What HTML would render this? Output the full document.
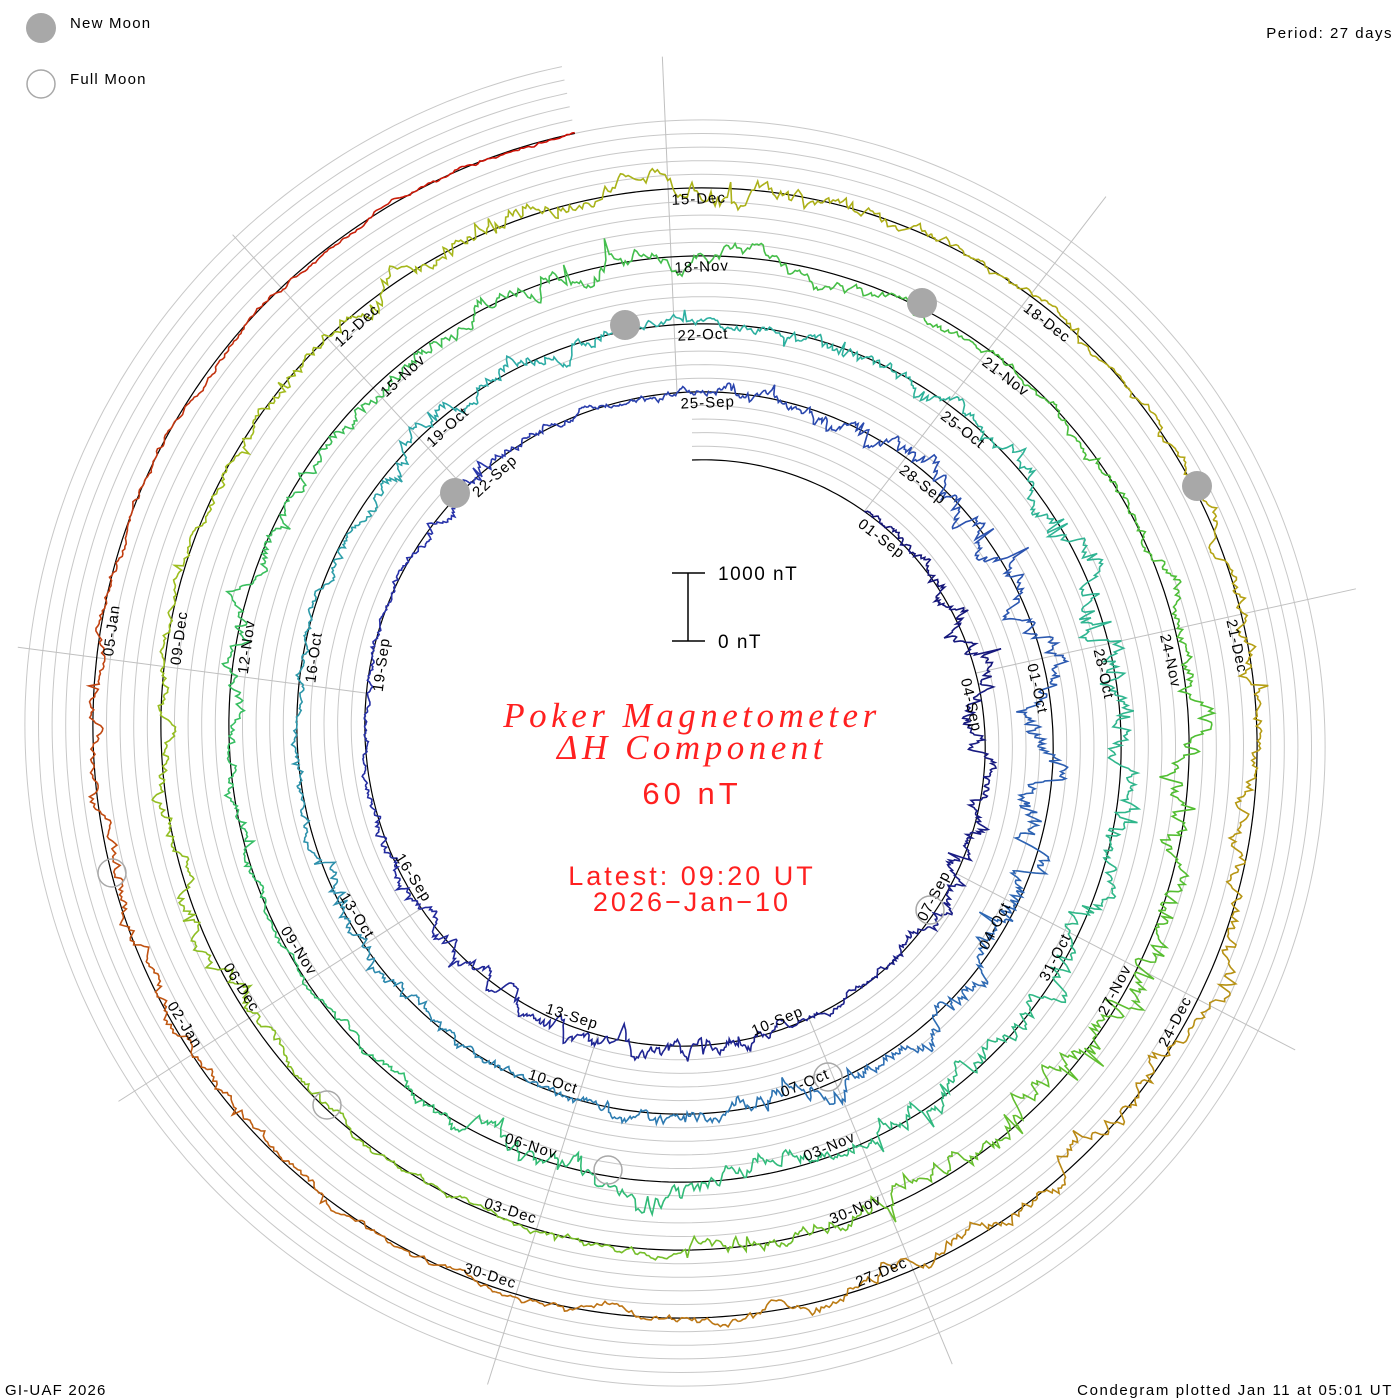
<!DOCTYPE html>
<html><head><meta charset="utf-8">
<style>
html,body{margin:0;padding:0;background:#fff;}
svg{display:block;}
text{font-family:"Liberation Sans",sans-serif;}
.lb{font-size:15px;fill:#000;letter-spacing:1px;}
</style></head>
<body>
<svg id="s" width="1400" height="1400" viewBox="0 0 1400 1400" xmlns="http://www.w3.org/2000/svg">
<rect width="1400" height="1400" fill="#fff"/>
<g id="grey"></g>
<g id="spokes"></g>
<g id="base"></g>
<g id="trace"></g>
<g id="labels">
<text class="lb">01-Sep</text><text class="lb">04-Sep</text><text class="lb">07-Sep</text><text class="lb">10-Sep</text><text class="lb">13-Sep</text><text class="lb">16-Sep</text><text class="lb">19-Sep</text><text class="lb">22-Sep</text><text class="lb">25-Sep</text>
<text class="lb">28-Sep</text><text class="lb">01-Oct</text><text class="lb">04-Oct</text><text class="lb">07-Oct</text><text class="lb">10-Oct</text><text class="lb">13-Oct</text><text class="lb">16-Oct</text><text class="lb">19-Oct</text><text class="lb">22-Oct</text>
<text class="lb">25-Oct</text><text class="lb">28-Oct</text><text class="lb">31-Oct</text><text class="lb">03-Nov</text><text class="lb">06-Nov</text><text class="lb">09-Nov</text><text class="lb">12-Nov</text><text class="lb">15-Nov</text><text class="lb">18-Nov</text>
<text class="lb">21-Nov</text><text class="lb">24-Nov</text><text class="lb">27-Nov</text><text class="lb">30-Nov</text><text class="lb">03-Dec</text><text class="lb">06-Dec</text><text class="lb">09-Dec</text><text class="lb">12-Dec</text><text class="lb">15-Dec</text>
<text class="lb">18-Dec</text><text class="lb">21-Dec</text><text class="lb">24-Dec</text><text class="lb">27-Dec</text><text class="lb">30-Dec</text><text class="lb">02-Jan</text><text class="lb">05-Jan</text>
</g>
<g fill="#a8a8a8">
<circle cx="455" cy="493" r="15"/><circle cx="625" cy="325" r="15"/><circle cx="922" cy="303" r="15"/><circle cx="1197" cy="486" r="15"/>
</g>
<g fill="none" stroke="#a8a8a8" stroke-width="1.5">
<circle cx="112" cy="873" r="14"/><circle cx="930" cy="910" r="14"/><circle cx="828" cy="1077" r="14"/><circle cx="608" cy="1170" r="14"/><circle cx="327" cy="1105" r="14"/>
</g>
<circle cx="41" cy="28" r="15" fill="#a8a8a8"/>
<text x="70" y="28" font-size="15" letter-spacing="1.2">New Moon</text>
<circle cx="41" cy="84" r="14" fill="none" stroke="#a8a8a8" stroke-width="1.5"/>
<text x="70" y="84" font-size="15" letter-spacing="1.2">Full Moon</text>
<text x="1393" y="38" font-size="15" text-anchor="end" letter-spacing="1.5">Period: 27 days</text>
<text x="5" y="1395" font-size="15" letter-spacing="1.2">GI-UAF 2026</text>
<text x="1393" y="1395" font-size="15" text-anchor="end" letter-spacing="1.6">Condegram plotted Jan 11 at 05:01 UT</text>
<g stroke="#000" stroke-width="1.5">
<line x1="688" y1="573" x2="688" y2="641"/><line x1="672" y1="573" x2="705" y2="573"/><line x1="672" y1="641" x2="705" y2="641"/>
</g>
<text x="718" y="580" font-size="19" letter-spacing="1.5">1000 nT</text>
<text x="718" y="648" font-size="19" letter-spacing="1.5">0 nT</text>
<g fill="#ff2020" text-anchor="middle">
<text x="692" y="727" font-size="35" font-style="italic" letter-spacing="4.5" style="font-family:'Liberation Serif',serif">Poker Magnetometer</text>
<text x="692" y="759" font-size="35" font-style="italic" letter-spacing="4.5" style="font-family:'Liberation Serif',serif">ΔH Component</text>
<text x="692" y="804" font-size="31" letter-spacing="4">60 nT</text>
<text x="692" y="885" font-size="27" letter-spacing="3">Latest: 09:20 UT</text>
<text x="692" y="911" font-size="27" letter-spacing="3">2026−Jan−10</text>
</g>
</svg>
<script>
(function(){
var NS="http://www.w3.org/2000/svg";
var cx=692,cy=736,r0=276,k=68;
function R(t){return r0+k*t/360;}
function P(t,r){var a=t*Math.PI/180;return [cx+r*Math.sin(a),cy-r*Math.cos(a)];}
function el(tag,attrs,parent){var e=document.createElementNS(NS,tag);for(var a in attrs)e.setAttribute(a,attrs[a]);parent.appendChild(e);return e;}
var TEND=1789;
var g=document.getElementById('grey');
for(var j=1;j<=5;j++){
  var d="";
  for(var t=0;t<=TEND;t+=1){var p=P(t,R(t)+j*k/5);d+=(t?"L":"M")+p[0].toFixed(1)+" "+p[1].toFixed(1);}
  el('path',{d:d,fill:'none',stroke:'#c8c8c8','stroke-width':1},g);
}
var sp=document.getElementById('spokes');
for(var i=0;i<9;i++){
  var a=37.5+40*i;var p1=P(a,R(a)),p2=P(a,680);
  el('line',{x1:p1[0],y1:p1[1],x2:p2[0],y2:p2[1],stroke:'#c0c0c0','stroke-width':1},sp);
}
var b="";
for(var t=0;t<=TEND;t+=1){var p=P(t,R(t));b+=(t?"L":"M")+p[0].toFixed(1)+" "+p[1].toFixed(1);}
el('path',{d:b,fill:'none',stroke:'#000','stroke-width':1.2},document.getElementById('base'));
var stops=[[-3,[16,16,110]],[20,[40,50,170]],[35,[45,110,180]],[50,[45,175,165]],[68,[50,190,110]],[85,[80,190,50]],[100,[160,190,30]],[110,[180,165,20]],[120,[190,110,20]],[128,[195,50,15]],[132,[210,0,0]]];
function col(d){for(var i=0;i<stops.length-1;i++){if(d<=stops[i+1][0]){var f=(d-stops[i][0])/(stops[i+1][0]-stops[i][0]);f=Math.max(0,Math.min(1,f));var c=stops[i][1],c2=stops[i+1][1];return "rgb("+Math.round(c[0]+(c2[0]-c[0])*f)+","+Math.round(c[1]+(c2[1]-c[1])*f)+","+Math.round(c[2]+(c2[2]-c[2])*f)+")";}}return "rgb(210,0,0)";}
var seed=12345;function rnd(){seed=(seed*1103515245+12345)%2147483648;return seed/2147483648;}
function gs(){return (rnd()+rnd()+rnd()-1.5)*1.4;}
function act(d){
  var a=1.2;
  var storms=[[3,2,4],[6,1.5,3],[11,1.5,4],[14,2,3],[21,1,3],[28,4,4],[33,3,5],[37,2,3],[42,1.5,3],[49,3,3],[53,1,2],[57,3,5],[62,3,4],[66,2,4],[72,2,3],[77,3,4],[86,3,6],[90,2,4],[97,2,3],[104,3,5],[112,2,3],[116,3,4],[124,2,3]];
  for(var i=0;i<storms.length;i++){var s=storms[i];var x=(d-s[0])/s[1];a+=s[2]*Math.exp(-x*x);}
  return a;
}
var tr=document.getElementById('trace');
var dev=0,step=0.25,t0=37.5;
var pts=[];
for(var t=t0;t<=TEND;t+=step){
  var d=(t-37.5)/13.3333;
  var A=act(d);
  dev=dev*0.9+gs()*A;
  var spike=0;if(rnd()<0.01*A/2)spike=(rnd()-0.4)*A*6;
  var v=dev+spike;
  v=Math.max(-35,Math.min(35,v));
  pts.push([t,R(t)+v,d]);
}
for(var i=0;i<pts.length-1;i+=24){
  var s="";
  for(var j=i;j<=Math.min(i+24,pts.length-1);j++){var p=P(pts[j][0],pts[j][1]);s+=(j==i?"M":"L")+p[0].toFixed(1)+" "+p[1].toFixed(1);}
  el('path',{d:s,fill:'none',stroke:col(pts[i][2]),'stroke-width':1.6},tr);
}
var lbs=document.querySelectorAll('#labels text');
for(var i=0;i<lbs.length;i++){
  var th=37.5+40*i;var r=R(th);var a=th%360;var e=lbs[i];
  if(a>90&&a<270){
    e.setAttribute('x',cx-3);e.setAttribute('y',cy+r-5);e.setAttribute('text-anchor','end');
    e.setAttribute('transform','rotate('+(a-180)+' '+cx+' '+cy+')');
  } else {
    e.setAttribute('x',cx+3);e.setAttribute('y',cy-r+16);
    e.setAttribute('transform','rotate('+a+' '+cx+' '+cy+')');
  }
}
})();
</script>
</body></html>
